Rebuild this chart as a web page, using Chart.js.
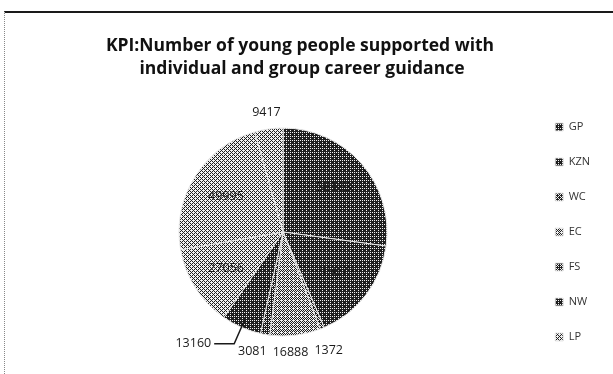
<!DOCTYPE html>
<html>
<head>
<meta charset="utf-8">
<script src="https://cdn.jsdelivr.net/npm/chart.js@4.4.1/dist/chart.umd.min.js"></script>
<style>
body { margin: 0; background: #fff; }
#wrap { position: relative; width: 613px; height: 374px; }
#frame { position: absolute; left: 4px; top: 11px; width: 609px; height: 363px; border-top: 2px solid #1a1a1a; border-left: 1px dotted #888; }
canvas { position: absolute; left: 0; top: 0; }
</style>
</head>
<body>
<div id="wrap"><div id="frame"></div><canvas id="theChart" width="613" height="374"></canvas></div>
<script>
// values (GP and KZN labels are unreadable)
var provinces = ['GP', 'KZN', 'WC', 'EC', 'FS', 'NW', 'LP', 'MP', 'NC'];
var supported = [58183, 35073, 1372, 16888, 3081, 13160, 27056, 49995, 9417];
var titleLines = ['KPI:Number of young people supported with', 'individual and group career guidance'];
var legendCount = 7; // the legend in the picture only shows the first 7

// grey level of each slice in the scan (0 = black, 1 = white)
var shades = [0.2, 0.17, 0.4, 0.55, 0.33, 0.2, 0.6, 0.63, 0.62];

// ordered dither so the fills look like the scanned halftone
var bayer = [[0, 8, 2, 10], [12, 4, 14, 6], [3, 11, 1, 9], [15, 7, 13, 5]];
function ditherPattern(level) {
  var c = document.createElement('canvas');
  c.width = 4; c.height = 4;
  var g = c.getContext('2d');
  for (var y = 0; y < 4; y++) {
    for (var x = 0; x < 4; x++) {
      g.fillStyle = (bayer[y][x] + 0.5) / 16 < level ? '#f0f0f0' : '#1e1e1e';
      g.fillRect(x, y, 1, 1);
    }
  }
  return g.createPattern(c, 'repeat');
}

// title drawn centred over the pie like in the picture
var titleDraw = {
  id: 'titleDraw',
  afterDraw: function (chart) {
    var ctx = chart.ctx;
    ctx.save();
    ctx.font = 'bold 17.5px "Open Sans"';
    ctx.fillStyle = '#111';
    ctx.textAlign = 'center';
    ctx.textBaseline = 'middle';
    ctx.fillText(titleLines[0], 300, 46);
    ctx.fillText(titleLines[1], 302, 69);
    ctx.restore();
  }
};

// value labels: inside for big slices, outside for small ones, one leader line
var sliceLabels = {
  id: 'sliceLabels',
  afterDatasetsDraw: function (chart) {
    var ctx = chart.ctx;
    var meta = chart.getDatasetMeta(0);
    var total = supported.reduce(function (a, b) { return a + b; }, 0);
    ctx.save();
    ctx.font = '12.5px "Open Sans"';
    ctx.fillStyle = '#1a1a1a';
    ctx.textBaseline = 'middle';
    var below = [];
    meta.data.forEach(function (arc, i) {
      var p = arc.getProps(['x', 'y', 'startAngle', 'endAngle', 'outerRadius']);
      var mid = (p.startAngle + p.endAngle) / 2;
      var cos = Math.cos(mid), sin = Math.sin(mid);
      var share = supported[i] / total;
      var text = String(supported[i]);
      if (share >= 0.1) {
        ctx.textAlign = 'center';
        ctx.fillText(text, p.x + cos * p.outerRadius * 0.65, p.y + sin * p.outerRadius * 0.65);
      } else if (share > 0.05 && Math.abs(cos) > 0.3) {
        var ex = p.x + cos * (p.outerRadius - 8), ey = p.y + sin * (p.outerRadius - 8);
        var bx = p.x + cos * (p.outerRadius + 18), by = p.y + sin * (p.outerRadius + 18);
        var side = cos < 0 ? -1 : 1;
        ctx.strokeStyle = '#1a1a1a';
        ctx.lineWidth = 1.5;
        ctx.beginPath();
        ctx.moveTo(ex, ey);
        ctx.lineTo(bx, by);
        ctx.lineTo(bx + side * 20, by);
        ctx.stroke();
        ctx.textAlign = side < 0 ? 'right' : 'left';
        ctx.fillText(text, bx + side * 23, by);
      } else if (sin > 0.5) {
        below.push({ text: text, x: p.x + cos * (p.outerRadius + 17), y: p.y + sin * (p.outerRadius + 17) });
      } else {
        ctx.textAlign = 'center';
        ctx.fillText(text, p.x + cos * (p.outerRadius + 17), p.y + sin * (p.outerRadius + 17));
      }
    });
    // small labels under the pie: keep them side by side, pushing to the left
    below.sort(function (a, b) { return b.x - a.x; });
    var limit = Infinity;
    ctx.textAlign = 'center';
    below.forEach(function (lb) {
      var w = ctx.measureText(lb.text).width;
      var x = Math.min(lb.x, limit - 6 - w / 2);
      ctx.fillText(lb.text, x, Math.max(lb.y, 350));
      limit = x - w / 2;
    });
    ctx.restore();
  }
};

var fills = shades.map(ditherPattern);

var ctx = document.getElementById('theChart').getContext('2d');
var chart = new Chart(ctx, {
  type: 'pie',
  data: {
    labels: provinces,
    datasets: [{
      data: supported,
      backgroundColor: fills,
      borderColor: '#e8e8e8',
      borderWidth: 1,
      radius: 104
    }]
  },
  options: {
    responsive: false,
    animation: false,
    radius: 104,
    layout: { padding: { top: 94, bottom: 4, left: 35, right: 13 } },
    plugins: {
      title: { display: false },
      tooltip: { enabled: false },
      legend: {
        position: 'right',
        labels: {
          font: { family: 'Open Sans', size: 11 },
          color: '#333',
          boxWidth: 8,
          boxHeight: 8,
          padding: 24,
          filter: function (item) { return item.index < legendCount; }
        }
      }
    }
  },
  plugins: [sliceLabels, titleDraw]
});
</script>
</body>
</html>
